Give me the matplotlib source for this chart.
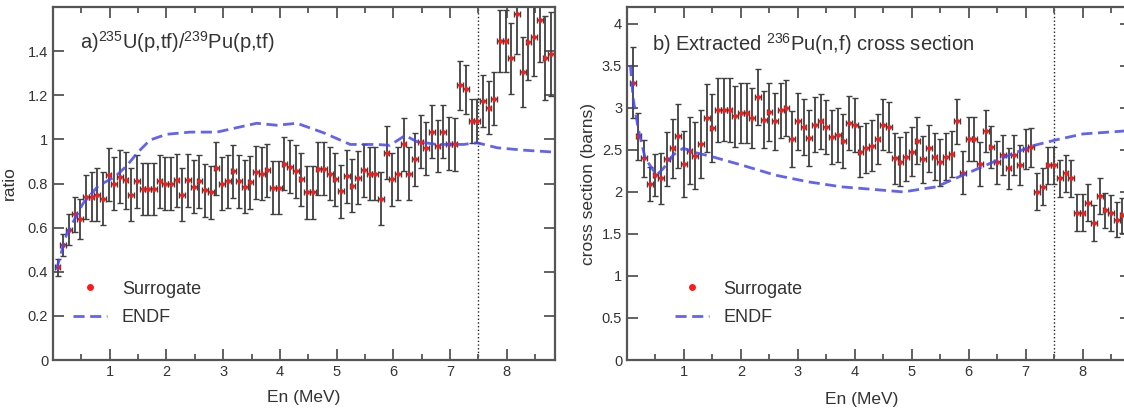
import matplotlib.pyplot as plt
from matplotlib.lines import Line2D
from matplotlib.ticker import MultipleLocator, FuncFormatter

plt.rcParams['font.family'] = ['Liberation Sans', 'DejaVu Sans']
plt.rcParams['mathtext.fontset'] = 'custom'
plt.rcParams['mathtext.rm'] = 'Liberation Sans'

# ---- panel a: ratio 235U(p,tf)/239Pu(p,tf) ----
en_a = [0.08, 0.18, 0.28, 0.38, 0.48, 0.58, 0.68, 0.78, 0.88, 0.98,
        1.08, 1.18, 1.28, 1.38, 1.48, 1.58, 1.68, 1.78, 1.88, 1.98,
        2.08, 2.18, 2.28, 2.38, 2.48, 2.58, 2.68, 2.78, 2.88, 2.98,
        3.08, 3.18, 3.28, 3.38, 3.48, 3.58, 3.68, 3.78, 3.88, 3.98,
        4.08, 4.18, 4.28, 4.38, 4.48, 4.58, 4.68, 4.78, 4.88, 4.98,
        5.08, 5.18, 5.28, 5.38, 5.48, 5.58, 5.68, 5.78, 5.88, 5.98,
        6.08, 6.18, 6.28, 6.38, 6.48, 6.58, 6.68, 6.78, 6.88, 6.98,
        7.08, 7.18, 7.28, 7.38, 7.48, 7.58, 7.68, 7.78, 7.88, 7.98,
        8.08, 8.18, 8.28, 8.38, 8.48, 8.58, 8.68, 8.78]
ratio = [0.42, 0.52, 0.59, 0.66, 0.64, 0.74, 0.74, 0.75, 0.73, 0.84,
         0.80, 0.83, 0.815, 0.75, 0.81, 0.775, 0.775, 0.775, 0.81, 0.80,
         0.80, 0.815, 0.75, 0.815, 0.785, 0.81, 0.77, 0.76, 0.87, 0.80,
         0.81, 0.855, 0.81, 0.785, 0.805, 0.85, 0.845, 0.86, 0.78, 0.78,
         0.89, 0.875, 0.855, 0.82, 0.76, 0.76, 0.867, 0.867, 0.845, 0.82,
         0.765, 0.833, 0.79, 0.826, 0.86, 0.845, 0.845, 0.73, 0.94, 0.82,
         0.845, 0.977, 0.845, 0.91, 0.99, 0.96, 1.035, 0.97, 1.035, 0.98,
         0.977, 1.245, 1.227, 1.083, 1.083, 1.174, 1.144, 1.185, 1.447, 1.447,
         1.367, 1.568, 1.306, 1.44, 1.465, 1.54, 1.367, 1.386]
ratio_err = [0.04, 0.05, 0.07, 0.08, 0.09, 0.10, 0.11, 0.12, 0.12, 0.12,
             0.12, 0.12, 0.13, 0.12, 0.12, 0.12, 0.12, 0.12, 0.12, 0.12,
             0.12, 0.12, 0.12, 0.12, 0.12, 0.12, 0.12, 0.12, 0.12, 0.12,
             0.12, 0.12, 0.12, 0.12, 0.12, 0.12, 0.12, 0.12, 0.12, 0.12,
             0.12, 0.12, 0.12, 0.12, 0.12, 0.12, 0.12, 0.12, 0.12, 0.12,
             0.12, 0.12, 0.12, 0.12, 0.12, 0.12, 0.12, 0.12, 0.12, 0.12,
             0.12, 0.12, 0.12, 0.12, 0.12, 0.12, 0.12, 0.12, 0.12, 0.12,
             0.12, 0.11, 0.11, 0.10, 0.10, 0.12, 0.12, 0.12, 0.14, 0.14,
             0.16, 0.18, 0.16, 0.17, 0.18, 0.19, 0.19, 0.19]
endf_a_en = [0.06, 0.24, 0.53, 0.80, 1.09, 1.30, 1.49, 1.71, 2.0, 2.42,
             2.89, 3.24, 3.59, 3.95, 4.30, 4.77, 5.24, 5.71, 5.94, 6.21,
             6.41, 6.77, 7.24, 7.47, 7.83, 8.30, 8.85]
endf_a = [0.41, 0.57, 0.71, 0.79, 0.83, 0.88, 0.94, 0.997, 1.023, 1.033,
          1.033, 1.053, 1.073, 1.064, 1.073, 1.03, 0.977, 0.977, 0.973, 1.018,
          0.99, 0.977, 0.977, 0.985, 0.962, 0.951, 0.942]

# ---- panel b: extracted 236Pu(n,f) cross section ----
en_b = [0.1, 0.2, 0.3, 0.4, 0.5, 0.6, 0.7, 0.8, 0.9, 1.0,
        1.1, 1.2, 1.3, 1.4, 1.5, 1.6, 1.7, 1.8, 1.9, 2.0,
        2.1, 2.2, 2.3, 2.4, 2.5, 2.6, 2.7, 2.8, 2.9, 3.0,
        3.1, 3.2, 3.3, 3.4, 3.5, 3.6, 3.7, 3.8, 3.9, 4.0,
        4.1, 4.2, 4.3, 4.4, 4.5, 4.6, 4.7, 4.8, 4.9, 5.0,
        5.1, 5.2, 5.3, 5.4, 5.5, 5.6, 5.7, 5.8, 5.9, 6.0,
        6.1, 6.2, 6.3, 6.4, 6.5, 6.6, 6.7, 6.8, 6.9, 7.0,
        7.1, 7.2, 7.3, 7.4, 7.5, 7.6, 7.7, 7.8, 7.9, 8.0,
        8.1, 8.2, 8.3, 8.4, 8.5, 8.6, 8.7, 8.8]
xsec = [3.30, 2.66, 2.40, 2.095, 2.20, 2.16, 2.39, 2.52, 2.66, 2.33,
        2.49, 2.43, 2.57, 2.88, 2.76, 2.97, 2.98, 2.97, 2.90, 2.94,
        2.94, 2.88, 3.13, 2.86, 2.95, 2.84, 2.97, 3.00, 2.63, 2.84,
        2.77, 2.64, 2.80, 2.84, 2.77, 2.65, 2.68, 2.61, 2.82, 2.80,
        2.48, 2.52, 2.55, 2.63, 2.80, 2.77, 2.40, 2.36, 2.42, 2.48,
        2.61, 2.39, 2.52, 2.42, 2.35, 2.42, 2.45, 2.84, 2.23, 2.63,
        2.63, 2.33, 2.73, 2.53, 2.35, 2.44, 2.28, 2.44, 2.32, 2.51,
        2.53, 2.00, 2.06, 2.32, 2.32, 2.16, 2.22, 2.16, 1.75, 1.75,
        1.87, 1.63, 1.95, 1.78, 1.75, 1.67, 1.72, 1.80]
xsec_err = [0.42, 0.28, 0.22, 0.20, 0.25, 0.30, 0.32, 0.35, 0.38, 0.39,
            0.40, 0.40, 0.40, 0.40, 0.40, 0.38, 0.38, 0.38, 0.36, 0.36,
            0.36, 0.36, 0.33, 0.34, 0.34, 0.34, 0.33, 0.33, 0.33, 0.34,
            0.33, 0.33, 0.33, 0.33, 0.32, 0.32, 0.32, 0.32, 0.32, 0.32,
            0.30, 0.30, 0.30, 0.30, 0.30, 0.30, 0.30, 0.29, 0.29, 0.29,
            0.28, 0.28, 0.28, 0.28, 0.28, 0.28, 0.27, 0.27, 0.26, 0.26,
            0.26, 0.26, 0.25, 0.25, 0.25, 0.24, 0.24, 0.24, 0.24, 0.24,
            0.23, 0.22, 0.22, 0.22, 0.22, 0.22, 0.22, 0.22, 0.22, 0.22,
            0.22, 0.21, 0.21, 0.21, 0.21, 0.21, 0.21, 0.21]
endf_b_en = [0.06, 0.11, 0.20, 0.32, 0.52, 0.64, 0.81, 0.99, 1.19, 1.49,
             2.01, 2.60, 3.18, 3.77, 4.32, 4.85, 5.43, 5.90, 6.31, 6.72,
             7.13, 7.54, 8.01, 8.85]
endf_b = [3.51, 3.10, 2.74, 2.40, 2.20, 2.28, 2.44, 2.52, 2.47, 2.42,
          2.32, 2.20, 2.12, 2.06, 2.03, 2.00, 2.06, 2.20, 2.32, 2.44,
          2.55, 2.62, 2.69, 2.73]

RED = '#ff1a1a'
BLUE = '#4848f0'
GREY = '#555555'
TXT = '#333333'

fig = plt.figure(figsize=(11.24, 4.11), dpi=100)
ax_a = fig.add_axes([53 / 1124, 51 / 411, 502 / 1124, 353 / 411])
ax_b = fig.add_axes([627 / 1124, 51 / 411, 504 / 1124, 353 / 411])


def draw_panel(ax, en, val, err, e_en, e_val, ytop):
    ax.errorbar(en, val, yerr=err, xerr=0.05, fmt='none', ecolor='#404040',
                elinewidth=1.3, capsize=2.4, capthick=1.0, zorder=2)
    ax.plot(en, val, 'o', color=RED, ms=3.4, mec='none', zorder=3)
    ax.plot(e_en, e_val, color=BLUE, lw=2.0, ls=(0, (4, 2)), alpha=0.85, zorder=4)
    ax.axvline(7.5, color='#222222', ls=':', lw=1.0, zorder=1)
    ax.set_xlim(0, 8.85)
    ax.xaxis.set_major_locator(MultipleLocator(1))
    ax.xaxis.set_minor_locator(MultipleLocator(0.5))
    ax.xaxis.set_major_formatter(FuncFormatter(lambda v, p: '' if v == 0 else '%g' % v))
    ax.yaxis.set_major_formatter(FuncFormatter(lambda v, p: '' if v > ytop else '%g' % round(v, 2)))
    ax.tick_params(which='both', direction='in', top=True, right=True,
                   colors=GREY, labelcolor=TXT, labelsize=10.5, width=1.3)
    ax.tick_params(which='major', length=8)
    ax.tick_params(which='minor', length=4)
    for s in ax.spines.values():
        s.set_color(GREY)
        s.set_linewidth(1.6)
    ax.set_xlabel('En (MeV)', fontsize=12.5, color=TXT, labelpad=8)


draw_panel(ax_a, en_a, ratio, ratio_err, endf_a_en, endf_a, 1.5)
ax_a.set_ylim(0, 1.6)
ax_a.yaxis.set_major_locator(MultipleLocator(0.2))
ax_a.set_ylabel('ratio', fontsize=12.5, color=TXT, labelpad=8)
ax_a.text(0.054, 0.90, r'a)$^{235}$U(p,tf)/$^{239}$Pu(p,tf)', transform=ax_a.transAxes,
          fontsize=14.5, color=TXT, va='center')

draw_panel(ax_b, en_b, xsec, xsec_err, endf_b_en, endf_b, 4.1)
ax_b.set_ylim(0, 4.2)
ax_b.yaxis.set_major_locator(MultipleLocator(0.5))
ax_b.set_ylabel('cross section (barns)', fontsize=12.5, color=TXT, labelpad=4)
ax_b.text(0.05, 0.895, r'b) Extracted $^{236}$Pu(n,f) cross section', transform=ax_b.transAxes,
          fontsize=14.5, color=TXT, va='center')
ax_b.xaxis.set_label_coords(0.466, -0.09)

handles = [Line2D([], [], marker='o', color=RED, ls='none', ms=5, mec='none'),
           Line2D([], [], color=BLUE, lw=2.0, ls=(0, (4, 2)), alpha=0.85)]
for ax, x0 in ((ax_a, 0.04), (ax_b, 0.095)):
    ax.legend(handles, ['Surrogate', 'ENDF'], loc='lower left', bbox_to_anchor=(x0, 0.095),
              frameon=False, fontsize=13, handlelength=1.9, handletextpad=0.8,
              labelspacing=0.65, borderpad=0, borderaxespad=0, labelcolor=TXT)

fig.savefig('out.png', dpi=100)
